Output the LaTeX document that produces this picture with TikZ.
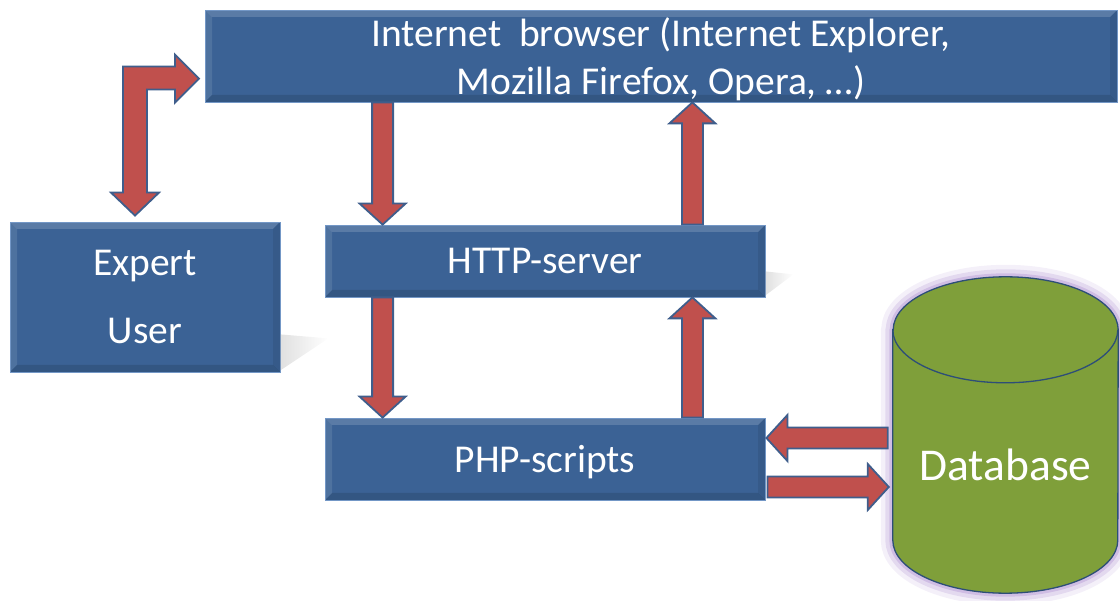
\documentclass[tikz,border=0pt]{standalone}
\usepackage{fontspec}
\setmainfont{Carlito}
\usetikzlibrary{calc,fadings}

\definecolor{boxblue}{HTML}{3B6295}
\definecolor{boxedge}{HTML}{7397C6}
\definecolor{arrowred}{HTML}{C0504D}
\definecolor{arrowedge}{HTML}{3F5E8C}
\definecolor{dbgreen}{HTML}{7F9F3A}
\definecolor{dbedge}{HTML}{2D4E78}
\definecolor{dbglow}{HTML}{B79BD6}

% light and dark edges of a box
\newcommand{\bevel}{
	\fill[white,opacity=.16] (path picture bounding box.north west) -- (path picture bounding box.north east) -- ([xshift=-7pt,yshift=-7pt]path picture bounding box.north east) -- ([xshift=7pt,yshift=-7pt]path picture bounding box.north west) -- cycle;
	\fill[white,opacity=.10] (path picture bounding box.north west) -- ([xshift=7pt,yshift=-7pt]path picture bounding box.north west) -- ([xshift=7pt,yshift=7pt]path picture bounding box.south west) -- (path picture bounding box.south west) -- cycle;
	\fill[black,opacity=.12] (path picture bounding box.south west) -- (path picture bounding box.south east) -- ([xshift=-7pt,yshift=7pt]path picture bounding box.south east) -- ([xshift=7pt,yshift=7pt]path picture bounding box.south west) -- cycle;
	\fill[black,opacity=.08] (path picture bounding box.north east) -- ([xshift=-7pt,yshift=-7pt]path picture bounding box.north east) -- ([xshift=-7pt,yshift=7pt]path picture bounding box.south east) -- (path picture bounding box.south east) -- cycle;
}

% block arrow from #1 with its tip at #2
\newcommand{\blockarrow}[2]{
	\coordinate (ba-s) at #1;
	\coordinate (ba-t) at #2;
	\coordinate (ba-h) at ($(ba-t)!21pt!(ba-s)$);
	\filldraw[barrow] ($(ba-s)!10.5pt!90:(ba-t)$) -- ($(ba-h)!10.5pt!90:(ba-t)$) -- ($(ba-h)!23pt!90:(ba-t)$) -- (ba-t) -- ($(ba-h)!23pt!-90:(ba-t)$) -- ($(ba-h)!10.5pt!-90:(ba-t)$) -- ($(ba-s)!10.5pt!-90:(ba-t)$) -- cycle;
}

\begin{document}
\begin{tikzpicture}[x=1pt,y=-1pt,
		box/.style={fill=boxblue, draw=boxedge, line width=.8pt, text=white, align=center, inner sep=0pt,
			text depth=0pt, font=\fontsize{39.5}{48}\selectfont, path picture={\bevel}},
		barrow/.style={fill=arrowred, draw=arrowedge, line width=1.8pt, line join=miter},
		boxshadow/.style={fill=black!40, opacity=.3, path fading=east}]
	\useasboundingbox (0,0) rectangle (1120,601);
	
	\node[box, minimum width=912pt, minimum height=92pt] (browser) at (661,56) {Internet~~browser (Internet Explorer,\\Mozilla Firefox, Opera, …)};
	\node[box, minimum width=270pt, minimum height=150pt, font=\fontsize{39.5}{68}\selectfont] (expert) at (145,297) {Expert\\User};
	\node[box, minimum width=440pt, minimum height=72pt] (http) at (545,261) {HTTP-server};
	\node[box, minimum width=440pt, minimum height=82pt] (php) at (545,459) {PHP-scripts};
	
	% shadows behind the boxes
	\fill[boxshadow] ($(expert.south east)+(0,-38)$) -- ++(48,4) -- ($(expert.south east)+(0,-2)$) -- cycle;
	\fill[boxshadow] ($(http.south east)+(0,-26)$) -- ++(28,3) -- ($(http.south east)+(0,-2)$) -- cycle;
	
	% database cylinder
	\node[minimum width=225pt, minimum height=316pt, inner sep=0pt] (db) at (1005.5,435) {};
	\foreach \w/\o in {24/.15,15/.28,7/.45}
		\draw[dbglow, line width=\w pt, opacity=\o, line join=round] ($(db.north west)+(0,53)$) -- ($(db.south west)+(0,-53)$) arc[start angle=180, end angle=360, x radius=112.5pt, y radius=53pt] -- ($(db.north east)+(0,53)$) arc[start angle=0, end angle=180, x radius=112.5pt, y radius=53pt] -- cycle;
	\filldraw[fill=dbgreen, draw=dbedge, line width=1.3pt] ($(db.north west)+(0,53)$) -- ($(db.south west)+(0,-53)$) arc[start angle=180, end angle=360, x radius=112.5pt, y radius=53pt] -- ($(db.north east)+(0,53)$) arc[start angle=0, end angle=180, x radius=112.5pt, y radius=53pt] -- cycle;
	\draw[dbedge, line width=1.3pt] ($(db.north west)+(0,53)$) arc[start angle=180, end angle=360, x radius=112.5pt, y radius=53pt];
	\node[text=white, font=\fontsize{45.5}{52}\selectfont] (dblabel) at ($(db.center)+(0,30)$) {Database};
	
	% browser <-> expert
	\filldraw[barrow] ($(expert.north)+(-10,-6)$) -- ++(24,-23) -- ++(-12,0) -- ++(0,-103) -- ++(28,0) -- ++(0,13) -- ++(24,-24) -- ++(-24,-24) -- ++(0,12) -- ++(-52,0) -- ++(0,126) -- ++(-12,0) -- cycle;
	
	\blockarrow{($(browser.south -| http.west)+(58,0)$)}{($(http.north west)+(58,0)$)}
	\blockarrow{($(http.north east)+(-73,0)$)}{($(browser.south -| http.east)+(-73,0)$)}
	\blockarrow{($(http.south west)+(58,0)$)}{($(php.north west)+(58,0)$)}
	\blockarrow{($(php.north east)+(-73,0)$)}{($(http.south east)+(-73,0)$)}
	\blockarrow{($(db.west |- php.east)+(-5,-21)$)}{($(php.east)+(1,-21)$)}
	\blockarrow{($(php.east)+(2,28)$)}{($(db.west |- php.east)+(-4,28)$)}
\end{tikzpicture}
\end{document}
